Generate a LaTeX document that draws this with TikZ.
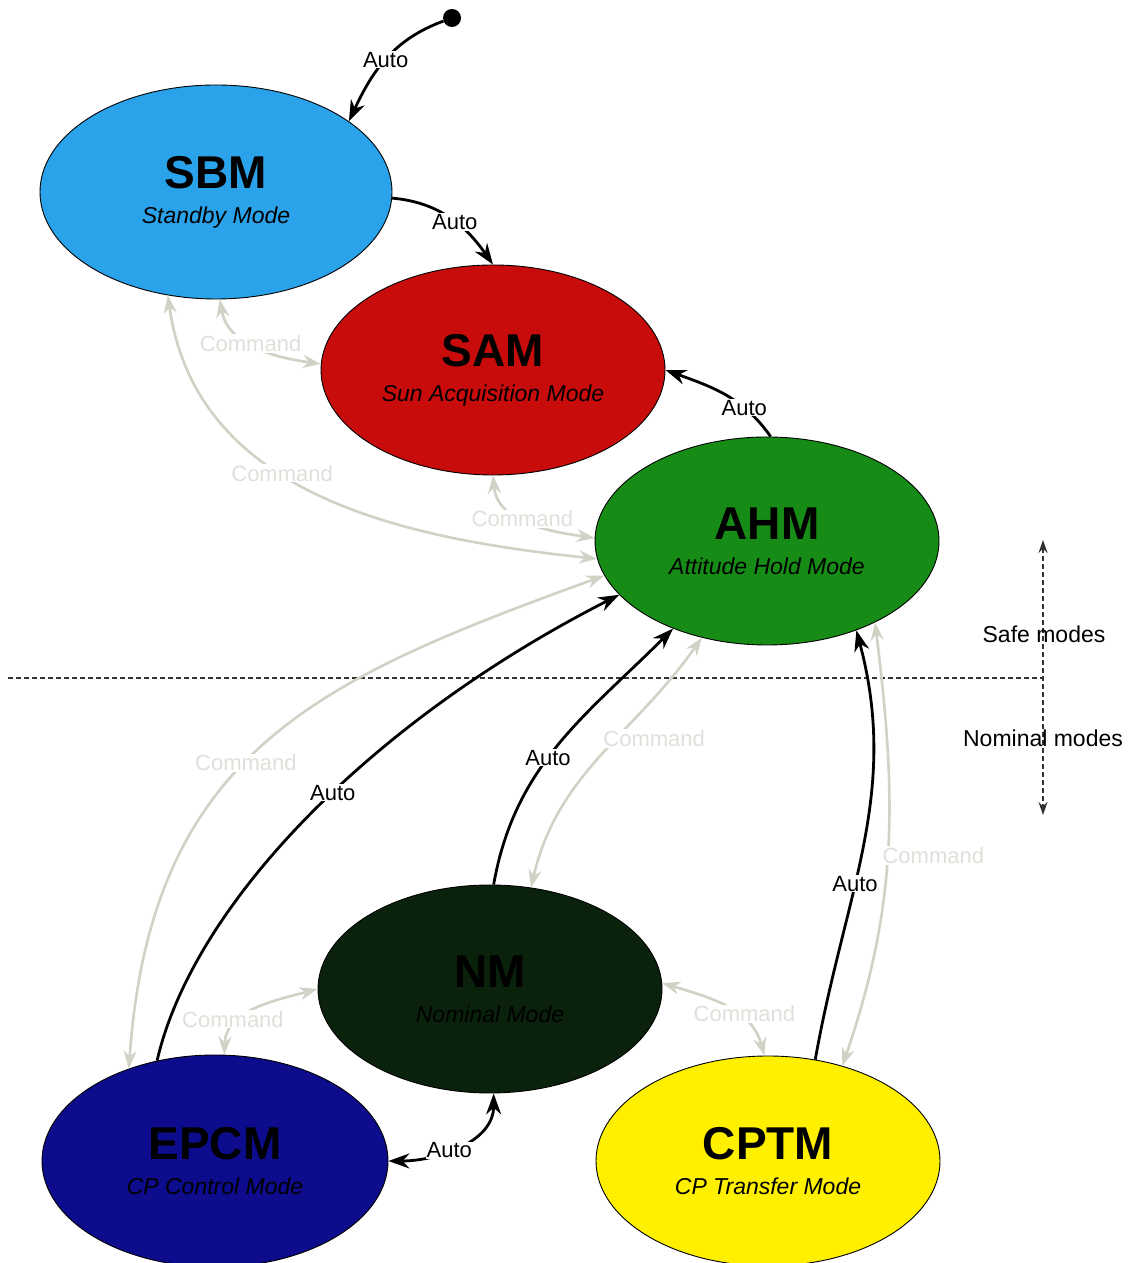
\documentclass[tikz,border=0pt]{standalone}
\usepackage{fontspec}
\setmainfont{Liberation Sans}
\usetikzlibrary{arrows.meta,shapes.geometric}
\definecolor{sbmc}{RGB}{42,163,235}
\definecolor{samc}{RGB}{200,12,12}
\definecolor{ahmc}{RGB}{22,140,22}
\definecolor{nmc}{RGB}{10,34,12}
\definecolor{epcmc}{RGB}{12,12,140}
\definecolor{cptmc}{RGB}{255,240,0}
\definecolor{cmdline}{RGB}{208,210,198}
\definecolor{cmdtext}{RGB}{224,224,218}
\newcommand\mtitle[1]{{\fontsize{46}{46}\selectfont\bfseries #1}}
\newcommand\msub[1]{{\itshape #1}}
\tikzset{
 modeellipse/.style={ellipse, draw=black, line width=0.9pt, inner sep=0pt, align=center, font=\fontsize{23}{35}\selectfont},
 autoarrow/.style={draw=black, line width=2.8pt, -{Stealth[length=21pt,width=15pt]}},
 autoboth/.style={draw=black, line width=2.8pt, {Stealth[length=21pt,width=15pt]}-{Stealth[length=21pt,width=15pt]}},
 cmdarrow/.style={draw=cmdline, line width=2.6pt, {Stealth[length=18pt,width=13pt]}-{Stealth[length=18pt,width=13pt]}},
 autolbl/.style={fill=white, inner sep=1pt, text=black, font=\fontsize{22}{26}\selectfont},
 cmdlbl/.style={fill=white, inner sep=1pt, text=cmdtext, font=\fontsize{22}{26}\selectfont},
 sidelbl/.style={font=\fontsize{23}{27}\selectfont, text=black},
 divider/.style={draw=black!80, line width=1.3pt, dash pattern=on 5pt off 3pt},
 dotnode/.style={circle, fill=black, inner sep=0pt, minimum size=18pt},
}
\begin{document}
\begin{tikzpicture}[x=1pt,y=1pt]
\fill[white] (0,0) rectangle (1128,1263);
\useasboundingbox (0,0) rectangle (1128,1263);

% divider and side arrow
\coordinate (hl) at (8,585);
\coordinate (hr) at (1042,585);
\coordinate (vt) at (1043,723);
\coordinate (vb) at (1043,448);
\draw[divider] (hl) -- (hr);
\draw[divider, {Stealth[length=13pt,width=9pt]}-{Stealth[length=13pt,width=9pt]}] (vt) -- (vb);
\node[sidelbl] (safe) at (1044,629) {Safe modes};
\node[sidelbl] (nominal) at (1043,525) {Nominal modes};

% modes
\node[modeellipse, fill=sbmc, minimum width=352pt, minimum height=214pt] (SBM) at (216,1071) {\mtitle{SBM}\\\msub{Standby Mode}};
\node[modeellipse, fill=samc, minimum width=344pt, minimum height=210pt] (SAM) at (493,893) {\mtitle{SAM}\\\msub{Sun Acquisition Mode}};
\node[modeellipse, fill=ahmc, minimum width=344pt, minimum height=208pt] (AHM) at (767,722) {\mtitle{AHM}\\\msub{Attitude Hold Mode}};
\node[modeellipse, fill=nmc, minimum width=344pt, minimum height=208pt] (NM) at (490,274) {\mtitle{NM}\\\msub{Nominal Mode}};
\node[modeellipse, fill=epcmc, minimum width=346pt, minimum height=212pt] (EPCM) at (215,102) {\mtitle{EPCM}\\\msub{CP Control Mode}};
\node[modeellipse, fill=cptmc, minimum width=344pt, minimum height=210pt] (CPTM) at (768,102) {\mtitle{CPTM}\\\msub{CP Transfer Mode}};
\node[dotnode] (init) at (452,1245) {};

% command transitions
\draw[cmdarrow] (SBM.-88) to[out=-80,in=172] node[cmdlbl,pos=0.45]{Command} (SAM.178);
\draw[cmdarrow] (SBM.-115) .. controls +(-82:200) and +(174:200) .. node[cmdlbl,pos=0.42]{Command} (AHM.186);
\draw[cmdarrow] (SAM.-90) to[out=-85,in=172] node[cmdlbl,pos=0.45]{Command} (AHM.179);
\draw[cmdarrow] (AHM.192) .. controls +(200:300) and +(86:320) .. node[cmdlbl,pos=0.55]{Command} (EPCM.133);
\draw[cmdarrow] (AHM.236) to[out=235,in=77] node[cmdlbl,pos=0.42,xshift=38pt]{Command} (NM.68);
\draw[cmdarrow] (AHM.-37) to[out=-83,in=71] node[cmdlbl,pos=0.52,xshift=46pt]{Command} (CPTM.52);
\draw[cmdarrow] (EPCM.85) to[out=88,in=195] node[cmdlbl,pos=0.35,xshift=-8pt]{Command} (NM.180);
\draw[cmdarrow] (NM.2) to[out=-17,in=105] node[cmdlbl,pos=0.6,xshift=8pt]{Command} (CPTM.92);

% automatic transitions
\draw[autoarrow] (init) to[out=200,in=65] node[autolbl,pos=0.5]{Auto} (SBM.28);
\draw[autoarrow] (SBM.-2) to[out=-5,in=125] node[autolbl,pos=0.55]{Auto} (SAM.90);
\draw[autoarrow] (AHM.88) to[out=125,in=-20] node[autolbl,pos=0.3]{Auto} (SAM.0);
\draw[autoarrow] (EPCM.120) .. controls +(77:160) and +(207:280) .. node[autolbl,pos=0.55]{Auto} (AHM.200);
\draw[autoarrow] (NM.88) to[out=80,in=225] node[autolbl,pos=0.44]{Auto} (AHM.223);
\draw[autoarrow] (CPTM.65) to[out=80,in=-75] node[autolbl,pos=0.4]{Auto} (AHM.-45);
\draw[autoboth] (EPCM.0) to[out=0,in=-90] node[autolbl,pos=0.42]{Auto} (NM.-88);
\end{tikzpicture}
\end{document}
